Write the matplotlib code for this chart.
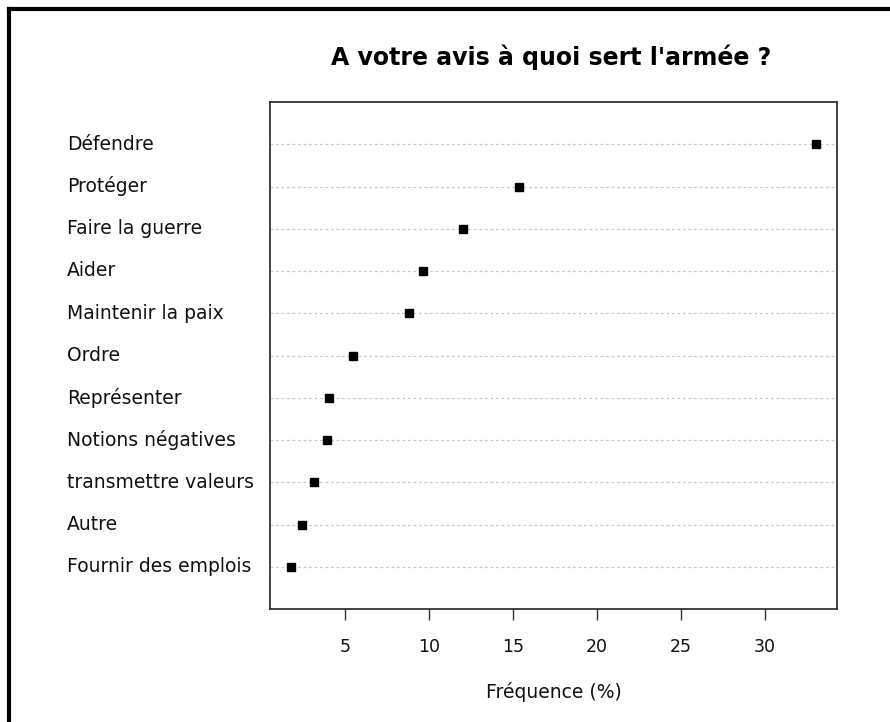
import matplotlib
matplotlib.use("Agg")
import matplotlib.pyplot as plt
from matplotlib.lines import Line2D
import matplotlib.transforms as mtransforms

categories = ["Défendre", "Protéger", "Faire la guerre", "Aider", "Maintenir la paix",
              "Ordre", "Représenter", "Notions négatives", "transmettre valeurs",
              "Autre", "Fournir des emplois"]
values = [33.06, 15.34, 12.0, 9.6, 8.8, 5.42, 4.0, 3.92, 3.12, 2.4, 1.75]
xticks = [5, 10, 15, 20, 25, 30]
title = "A votre avis à quoi sert l'armée ?"
xlabel = "Fréquence (%)"

plt.rcParams['font.family'] = ['DejaVu Sans']

W, H = 890, 722
fig = plt.figure(figsize=(W / 100, H / 100), dpi=100)
fig.patch.set_facecolor("white")

ax = fig.add_axes([270 / W, (H - 609) / H, (837 - 270) / W, (609 - 102) / H])

n = len(categories)
ypos = [n - i for i in range(n)]  # top row at n

for y in ypos:
    ax.axhline(y, color="#c8c8c8", linestyle=(0, (2.2, 2.2)), linewidth=0.9, zorder=1)

ax.plot(values, ypos, linestyle="none", marker="s", markersize=6.3,
        color="black", zorder=3)

vmin, vmax = min(values), max(values)
rng = vmax - vmin
ax.set_xlim(vmin - 0.04 * rng, vmax + 0.04 * rng)
ax.set_ylim(0, n + 1)

ax.set_yticks([])
ax.set_xticks(xticks)
ax.set_xticklabels([str(t) for t in xticks], fontsize=12.5)
ax.tick_params(axis="x", direction="out", length=7.7, width=1.0, color="#333333",
               pad=13, labelcolor="#111111")
for s in ax.spines.values():
    s.set_color("#333333")
    s.set_linewidth(1.3)

ax.set_xlabel(xlabel, fontsize=13.5, color="#111111", labelpad=19)

trans = mtransforms.blended_transform_factory(fig.transFigure, ax.transData)
for cat, y in zip(categories, ypos):
    ax.text(67 / W, y, cat, transform=trans, ha="left", va="center",
            fontsize=13.5, color="#111111")

fig.text(551 / W, 1 - 57 / H, title, ha="center", va="center",
         fontsize=17, fontweight="bold", color="black")

# outer frame lines (left and top)
fig.add_artist(Line2D([8.5 / W, 8.5 / W], [0, 1 - 8.5 / H], transform=fig.transFigure,
                      color="black", linewidth=3, solid_capstyle="projecting"))
fig.add_artist(Line2D([8.5 / W, 1], [1 - 8.5 / H, 1 - 8.5 / H], transform=fig.transFigure,
                      color="black", linewidth=3, solid_capstyle="projecting"))

fig.savefig("out.png", dpi=100, facecolor="white")
